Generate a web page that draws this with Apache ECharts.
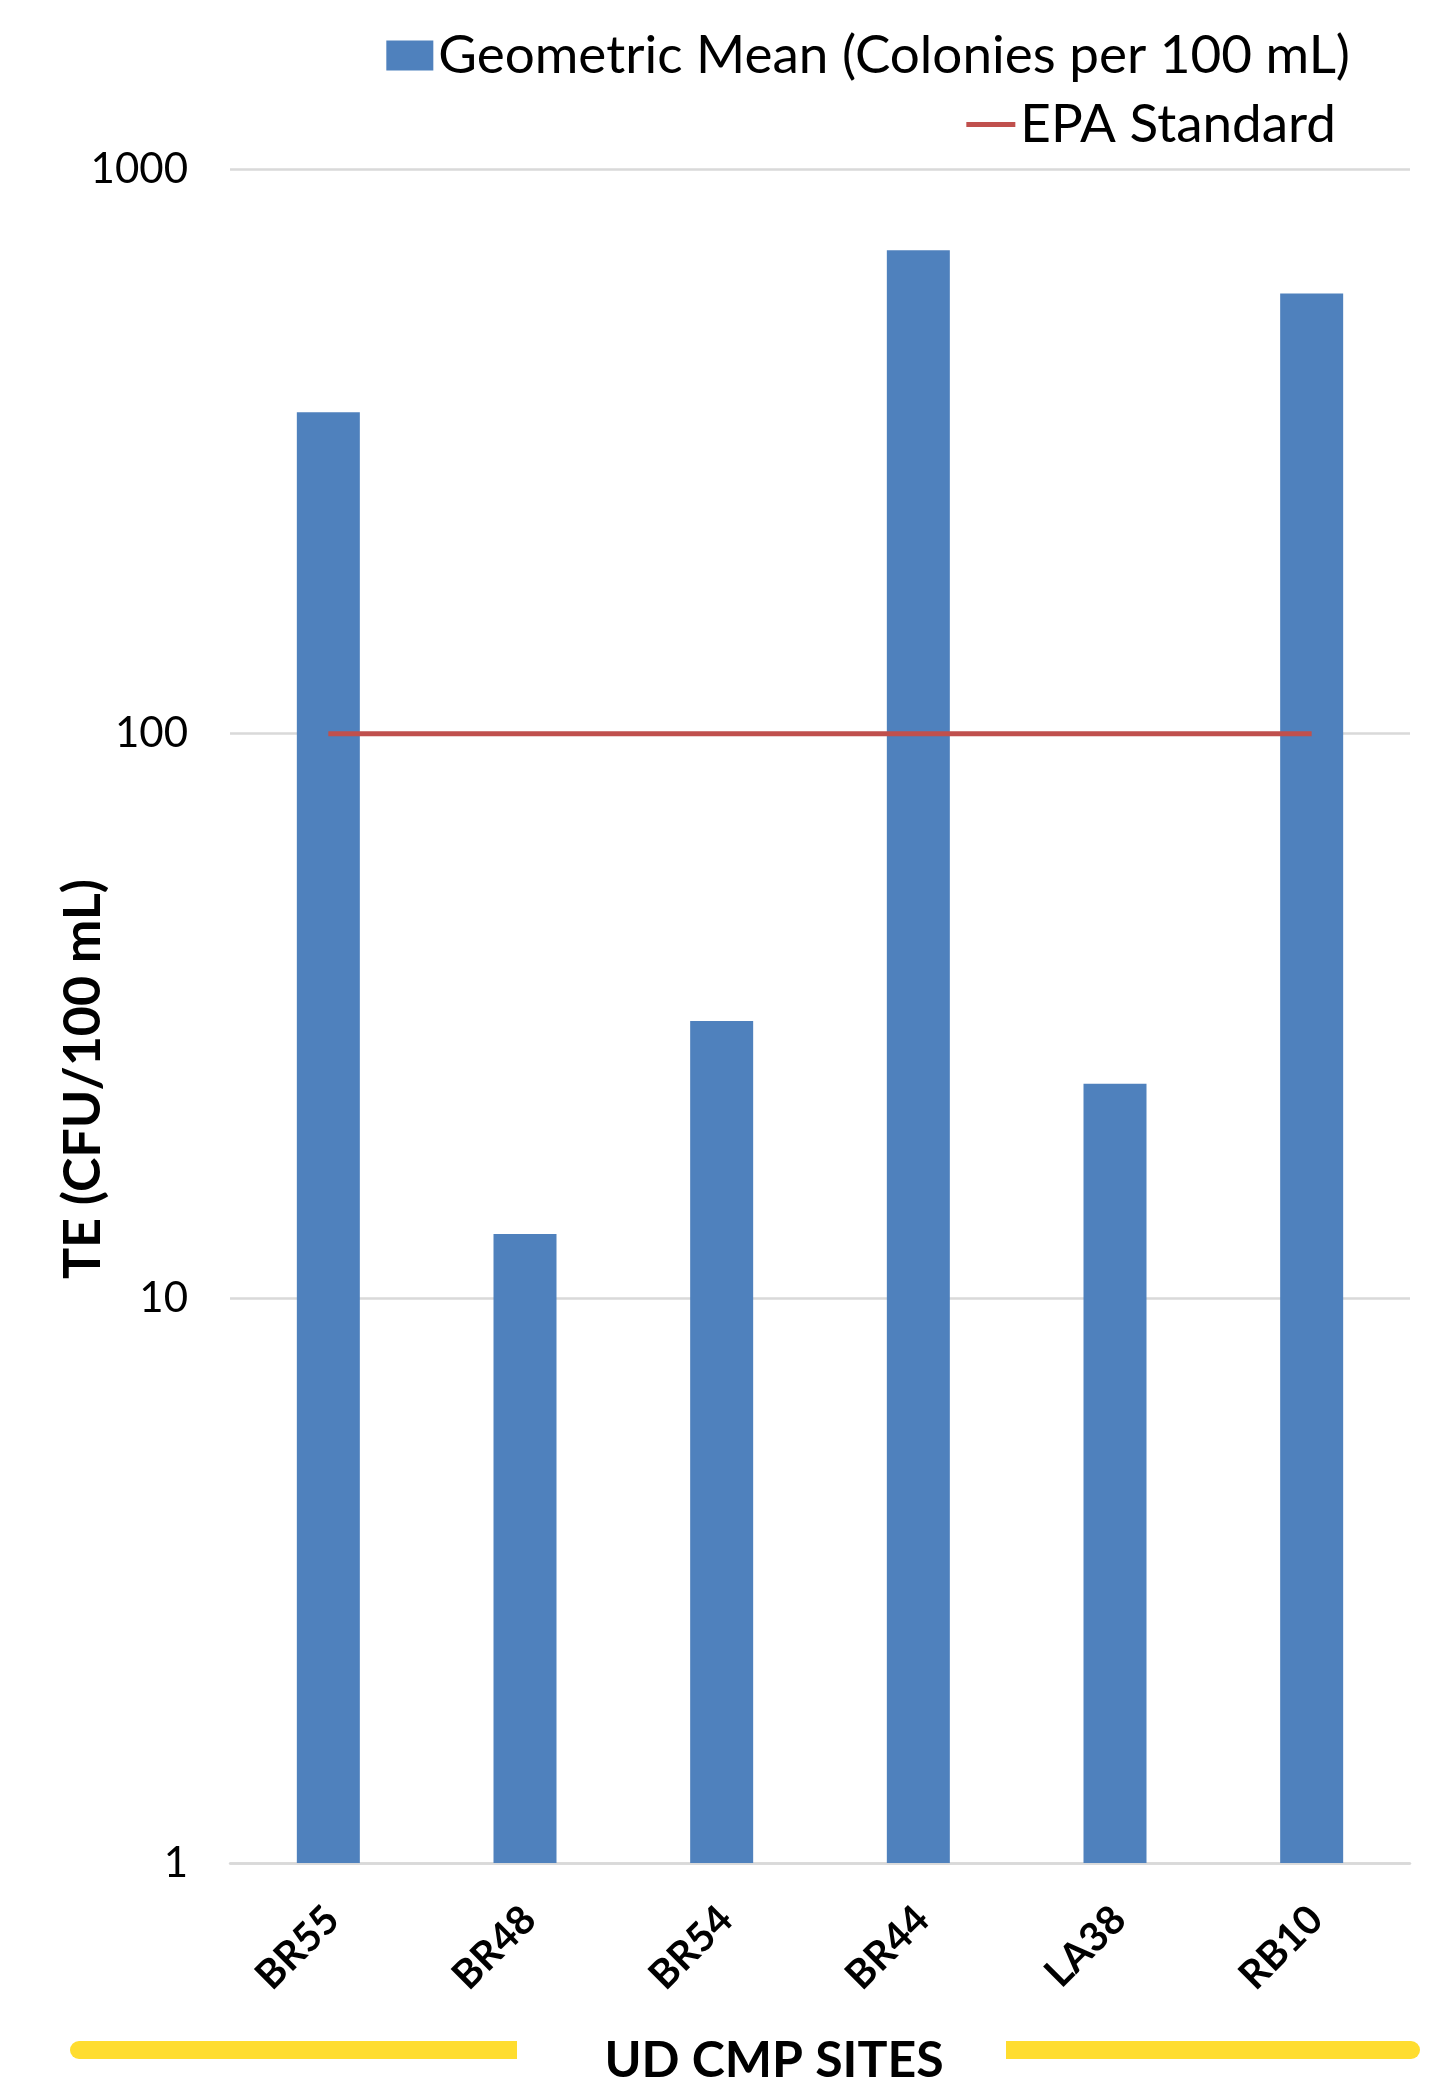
<!DOCTYPE html>
<html>
<head>
<meta charset="utf-8">
<script src="https://cdn.jsdelivr.net/npm/echarts@6/dist/echarts.min.js"></script>
<style>
html,body{margin:0;padding:0;background:#fff;}
#chart{width:1434px;height:2091px;}
</style>
</head>
<body>
<div id="chart"></div>
<script>
const categories = ['BR55', 'BR48', 'BR54', 'BR44', 'LA38', 'RB10'];
const geometricMean = [371, 13, 31, 718, 24, 602];
const epaStandard = [100, 100, 100, 100, 100, 100];
const seriesNames = ['Geometric Mean (Colonies per 100 mL)', 'EPA Standard'];
const yAxisTitle = 'TE (CFU/100 mL)';
const xAxisTitle = 'UD CMP SITES';

const FONT = 'Lato, "Open Sans", sans-serif';
const chart = echarts.init(document.getElementById('chart'), null, {renderer: 'canvas'});

chart.setOption({
  backgroundColor: '#ffffff',
  animation: false,
  textStyle: {fontFamily: FONT, color: '#000'},
  grid: {left: 230, right: 24, top: 169, bottom: 228, containLabel: false},
  legend: [
    {
      data: [{name: seriesNames[0], icon: 'rect'}],
      right: 79, top: 24,
      itemWidth: 47, itemHeight: 30,
      textStyle: {fontFamily: FONT, fontSize: 53, color: '#000'}
    },
    {
      data: [{name: seriesNames[1], icon: 'rect'}],
      right: 93, top: 93,
      itemWidth: 49, itemHeight: 5,
      textStyle: {fontFamily: FONT, fontSize: 53, color: '#000'}
    }
  ],
  xAxis: {
    type: 'category',
    data: categories,
    axisLine: {show: true, lineStyle: {color: '#D9D9D9', width: 2.5}},
    axisTick: {show: false},
    axisLabel: {
      rotate: 45,
      interval: 0,
      margin: 26,
      verticalAlign: 'top',
      align: 'right',
      padding: [0, 14, 0, 0],
      fontFamily: FONT,
      fontSize: 40,
      fontWeight: 'bold',
      color: '#000'
    }
  },
  yAxis: {
    type: 'log',
    logBase: 10,
    min: 1,
    max: 1000,
    axisLine: {show: false},
    axisTick: {show: false},
    splitLine: {show: true, lineStyle: {color: '#D9D9D9', width: 2.5}},
    axisLabel: {
      margin: 42,
      formatter: function (v) { return String(v); },
      fontFamily: FONT,
      fontSize: 42,
      color: '#000'
    }
  },
  series: [
    {
      name: seriesNames[0],
      type: 'bar',
      data: geometricMean,
      barWidth: 63,
      itemStyle: {color: '#4F81BD'},
      z: 2
    },
    {
      name: seriesNames[1],
      type: 'line',
      data: epaStandard,
      symbol: 'none',
      showSymbol: false,
      lineStyle: {color: '#C0504D', width: 5},
      itemStyle: {color: '#C0504D'},
      z: 3
    }
  ],
  graphic: [
    {
      type: 'text',
      x: 83, y: 1079,
      rotation: Math.PI / 2,
      style: {
        text: yAxisTitle,
        fontFamily: FONT,
        fontSize: 52,
        fontWeight: 'bold',
        fill: '#000',
        textAlign: 'center',
        textVerticalAlign: 'middle'
      }
    },
    {
      type: 'rect',
      shape: {x: 70, y: 2041, width: 447, height: 18, r: [9, 0, 0, 9]},
      style: {fill: '#FFDD2F'}
    },
    {
      type: 'rect',
      shape: {x: 1006, y: 2041, width: 414, height: 18, r: [0, 9, 9, 0]},
      style: {fill: '#FFDD2F'}
    },
    {
      type: 'text',
      x: 774, y: 2061,
      style: {
        text: xAxisTitle,
        fontFamily: FONT,
        fontSize: 50,
        fontWeight: 'bold',
        fill: '#000',
        textAlign: 'center',
        textVerticalAlign: 'middle'
      }
    }
  ]
});
</script>
</body>
</html>
